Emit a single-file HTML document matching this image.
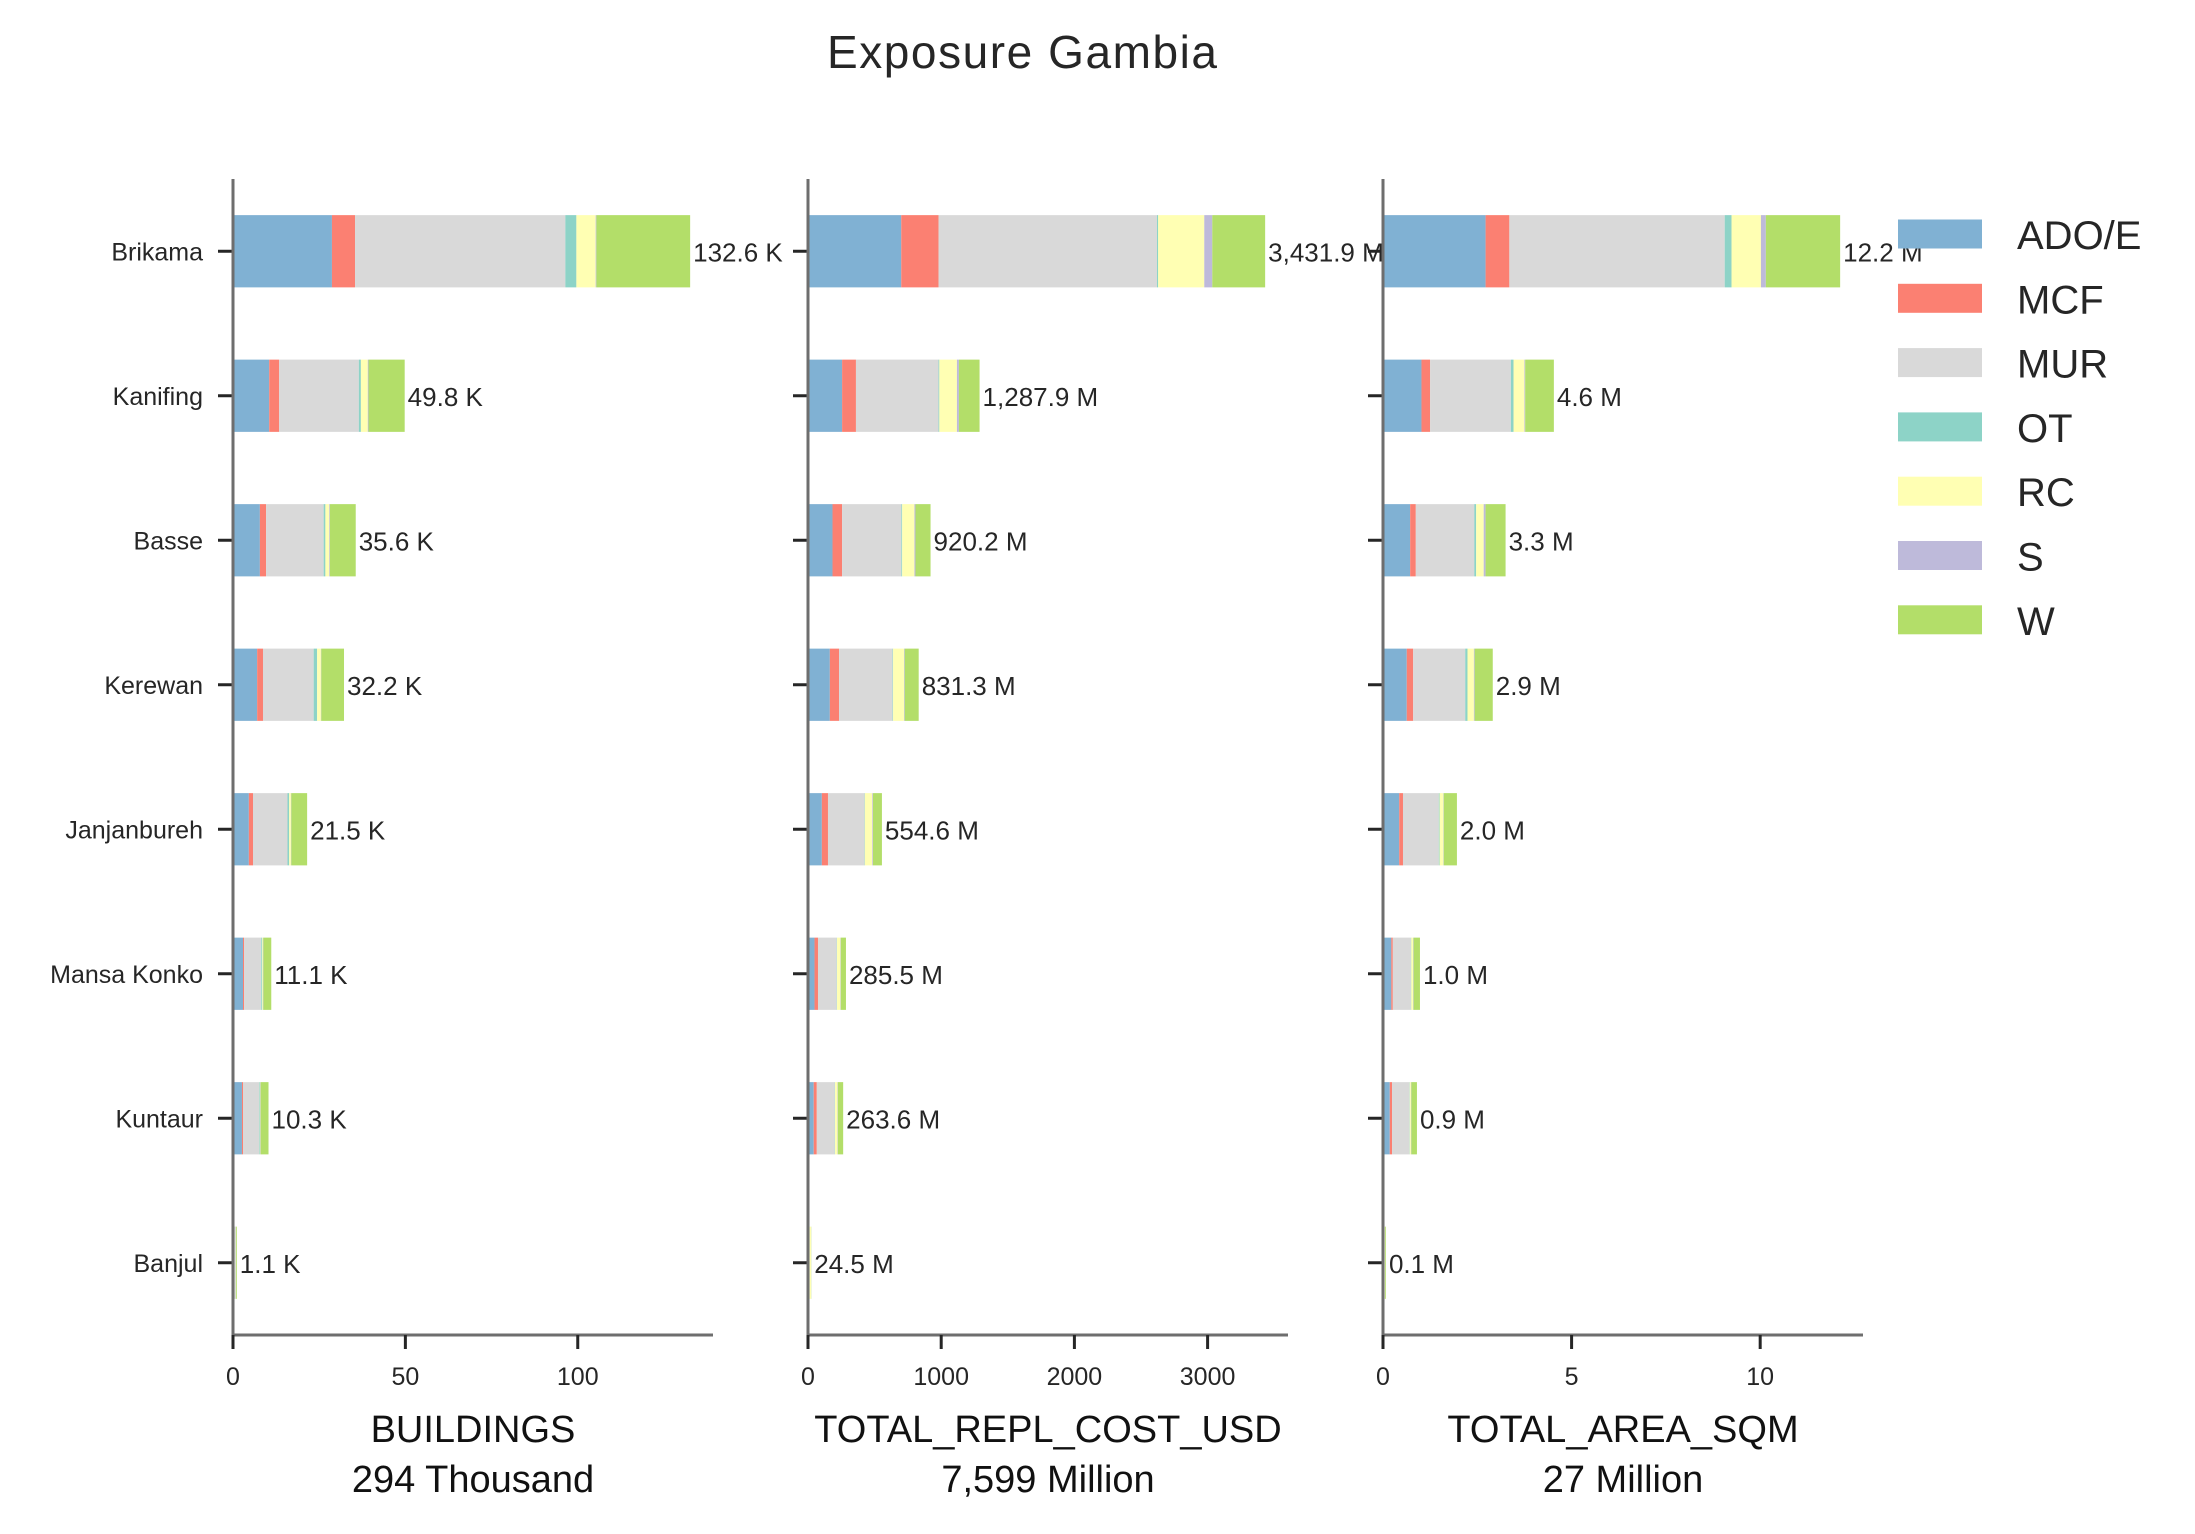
<!DOCTYPE html>
<html><head><meta charset="utf-8"><style>
html,body{margin:0;padding:0;background:#fff;}
svg{display:block;font-family:"Liberation Sans",sans-serif;}
</style></head><body>
<svg id="chart" width="2195" height="1534" viewBox="0 0 2195 1534" xmlns="http://www.w3.org/2000/svg">
<text x="1022" y="68" font-size="46" text-anchor="middle" fill="#262626" textLength="390">Exposure Gambia</text>
<g id="plots"></g>
<g id="legend"></g>
</svg>
<script>
const categories = ["Brikama","Kanifing","Basse","Kerewan","Janjanbureh","Mansa Konko","Kuntaur","Banjul"];
const seriesNames = ["ADO/E","MCF","MUR","OT","RC","S","W"];
const seriesColors = ["#80b1d3","#fb8072","#d9d9d9","#8dd3c7","#ffffb3","#bebada","#b3de69"];
// BUILDINGS (thousands) per series, per category
const bADO = [28.7,10.5,7.8,7.0,4.6,2.9,2.6,0.3];
const bMCF = [6.7,2.9,1.8,1.7,1.2,0.3,0.3,0.05];
const bMUR = [61.0,23.1,16.7,14.7,10.0,5.0,4.7,0.4];
const bOT  = [3.2,0.6,0.5,1.0,0.5,0.3,0.2,0.02];
const bRC  = [5.6,2.0,1.1,1.1,0.5,0.2,0.1,0.05];
const bS   = [0.2,0.2,0.2,0.1,0.1,0.1,0.1,0.02];
const bW   = [27.2,10.5,7.5,6.6,4.6,2.3,2.3,0.26];
const bLabels = ["132.6 K","49.8 K","35.6 K","32.2 K","21.5 K","11.1 K","10.3 K","1.1 K"];
// TOTAL_REPL_COST_USD (millions)
const cADO = [700,256,184,164,104,49,43,3];
const cMCF = [280,104,72,69,46,26,23,1];
const cMUR = [1640,620,445,402,274,141,135,8];
const cOT  = [9,6,6,4,3,2,2,0.5];
const cRC  = [346,132,92,82,56,25,18,10];
const cS   = [60,15,8,5,5,3,3,0.5];
const cW   = [397,155,113,105,67,39,40,1.5];
const cLabels = ["3,431.9 M","1,287.9 M","920.2 M","831.3 M","554.6 M","285.5 M","263.6 M","24.5 M"];
// TOTAL_AREA_SQM (millions)
const aADO = [2.72,1.02,0.72,0.63,0.43,0.22,0.18,0.02];
const aMCF = [0.63,0.23,0.15,0.17,0.10,0.04,0.06,0.005];
const aMUR = [5.71,2.14,1.55,1.38,0.95,0.48,0.46,0.02];
const aOT  = [0.18,0.07,0.05,0.06,0.02,0.01,0.01,0.002];
const aRC  = [0.78,0.29,0.20,0.17,0.10,0.05,0.03,0.01];
const aS   = [0.13,0.02,0.05,0.02,0.01,0.01,0.01,0.001];
const aW   = [1.97,0.76,0.53,0.48,0.35,0.17,0.15,0.02];
const aLabels = ["12.2 M","4.6 M","3.3 M","2.9 M","2.0 M","1.0 M","0.9 M","0.1 M"];
const bTicks = [0,50,100];
const cTicks = [0,1000,2000,3000];
const aTicks = [0,5,10];

const NS="http://www.w3.org/2000/svg";
function mk(tag, attrs, parent){const e=document.createElementNS(NS,tag);for(const k in attrs)e.setAttribute(k,attrs[k]);parent.appendChild(e);return e;}
const plots=document.getElementById('plots');
const TOP=179, BOT=1335, ROW=(BOT-TOP)/categories.length, BARH=ROW*0.5, AXW=480;
function yC(i){return TOP+ROW*(i+0.5);}

const panels=[
 {x0:233, series:[bADO,bMCF,bMUR,bOT,bRC,bS,bW], labels:bLabels, ticks:bTicks, title:"BUILDINGS", sub:"294 Thousand", name:"buildings", showCats:true},
 {x0:808, series:[cADO,cMCF,cMUR,cOT,cRC,cS,cW], labels:cLabels, ticks:cTicks, title:"TOTAL_REPL_COST_USD", sub:"7,599 Million", name:"repl-cost", showCats:false},
 {x0:1383, series:[aADO,aMCF,aMUR,aOT,aRC,aS,aW], labels:aLabels, ticks:aTicks, title:"TOTAL_AREA_SQM", sub:"27 Million", name:"area", showCats:false}
];

panels.forEach(p=>{
  const g=mk('g',{},plots);
  
  
  const totals=categories.map((c,i)=>p.series.reduce((s,a)=>s+a[i],0));
  const maxT=Math.max(...totals)*1.05;
  const xs=v=>p.x0+v/maxT*AXW;
  // bars
  categories.forEach((c,i)=>{
    let acc=0;
    p.series.forEach((arr,si)=>{
      const r=mk('rect',{x:xs(acc),y:yC(i)-BARH/2,width:Math.max(0,xs(acc+arr[i])-xs(acc)),height:BARH,fill:seriesColors[si]},g);
      
      
      acc+=arr[i];
    });
    const t=mk('text',{x:xs(acc)+3,y:yC(i)+10,'font-size':26,fill:'#262626'},g);
    t.textContent=p.labels[i];
    
    
    // y tick
    mk('line',{x1:p.x0-15,x2:p.x0,y1:yC(i),y2:yC(i),stroke:'#262626','stroke-width':3},g);
    if(p.showCats){
      const ct=mk('text',{x:203,y:yC(i)+9,'font-size':25,'text-anchor':'end',fill:'#262626'},g);
      ct.textContent=c;
      
      
    }
  });
  // spines
  mk('line',{x1:p.x0,x2:p.x0,y1:TOP,y2:BOT,stroke:'#6e6e6e','stroke-width':3},g);
  mk('line',{x1:p.x0,x2:p.x0+AXW,y1:BOT,y2:BOT,stroke:'#6e6e6e','stroke-width':3},g);
  // x ticks
  p.ticks.forEach(v=>{
    mk('line',{x1:xs(v),x2:xs(v),y1:BOT,y2:BOT+14,stroke:'#262626','stroke-width':3},g);
    const tt=mk('text',{x:xs(v),y:1385,'font-size':25,'text-anchor':'middle',fill:'#262626'},g);
    tt.textContent=String(v);
    
    
  });
  const cx=p.x0+AXW/2;
  const t1=mk('text',{x:cx,y:1442,'font-size':38,'text-anchor':'middle',fill:'#111'},g);
  t1.textContent=p.title;
  
  
  const t2=mk('text',{x:cx,y:1492,'font-size':38,'text-anchor':'middle',fill:'#111'},g);
  t2.textContent=p.sub;
  
  
});

const lg=document.getElementById('legend');
seriesNames.forEach((n,i)=>{
  const cy=234+i*64.3;
  const r=mk('rect',{x:1898,y:cy-14.5,width:84,height:29,fill:seriesColors[i]},lg);
  
  
  const t=mk('text',{x:2017,y:cy+15,'font-size':40,fill:'#262626'},lg);
  t.textContent=n;
  
  
});
</script>
</body></html>
